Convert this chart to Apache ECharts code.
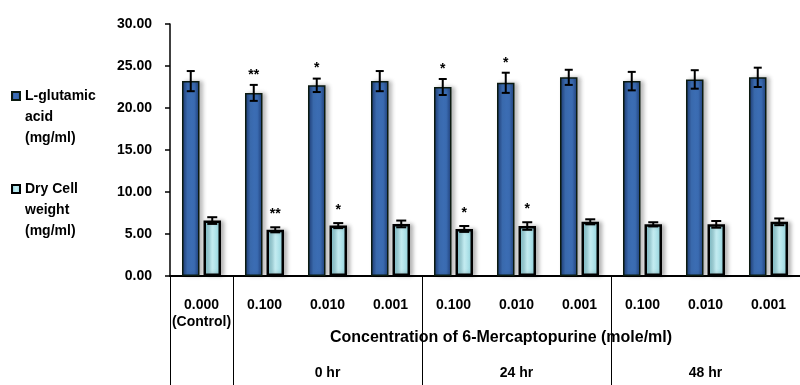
<!DOCTYPE html>
<html><head><meta charset="utf-8">
<script src="https://cdn.jsdelivr.net/npm/echarts@6/dist/echarts.min.js"></script>
<style>html,body{margin:0;padding:0;background:#fff}#c{width:800px;height:385px}</style>
</head><body><div id="c"></div>
<script>
const categories = ['0.000\n(Control)', '0.100', '0.010', '0.001', '0.100', '0.010', '0.001', '0.100', '0.010', '0.001'];
const groupLabels = ['', '', '0 hr', '', '', '24 hr', '', '', '48 hr', ''];
const glutamic = [23.2, 21.8, 22.7, 23.2, 22.5, 23.0, 23.65, 23.2, 23.4, 23.65];
const glutamicErr = [1.2, 0.95, 0.8, 1.2, 0.95, 1.2, 0.9, 1.1, 1.1, 1.15];
const glutamicSig = ['', '**', '*', '', '*', '*', '', '', '', ''];
const dryCell = [6.6, 5.5, 6.0, 6.2, 5.6, 5.95, 6.45, 6.15, 6.15, 6.45];
const dryCellErr = [0.4, 0.3, 0.3, 0.4, 0.35, 0.45, 0.3, 0.25, 0.4, 0.4];
const dryCellSig = ['', '**', '*', '', '*', '*', '', '', '', ''];
const yTicks = [0, 5, 10, 15, 20, 25, 30];
const seriesNames = ['L-glutamic acid (mg/ml)', 'Dry Cell weight (mg/ml)'];
const legendLines = {
  'L-glutamic acid (mg/ml)': ['L-glutamic', 'acid', '(mg/ml)'],
  'Dry Cell weight (mg/ml)': ['Dry Cell', 'weight', '(mg/ml)']
};
const xTitle = 'Concentration of 6-Mercaptopurine (mole/ml)';

const FONT = '"Liberation Sans", Arial, sans-serif';
const BAR_W = 17.5, GAP = 4;
const OFF = (BAR_W + GAP) / 2;

const darkFill = {type:'linear',x:0,y:0,x2:1,y2:0,colorStops:[
  {offset:0,color:'#1c3870'},{offset:0.3,color:'#3d6fb6'},{offset:0.7,color:'#3a6bb1'},{offset:1,color:'#1f3d76'}]};
const lightFill = {type:'linear',x:0,y:0,x2:1,y2:0,colorStops:[
  {offset:0,color:'#7ec6d2'},{offset:0.5,color:'#c6eef3'},{offset:1,color:'#8ccfd9'}]};

function errData(vals, errs){
  return vals.map((v,i)=>[i, v, errs[i]]);
}
function makeErr(vals, errs, sigs, side, capHalf, sigGap){
  return {
    type:'custom', z:5, silent:true,
    data: errData(vals, errs),
    encode:{x:0, y:1},
    renderItem(params, api){
      const i = api.value(0), v = api.value(1), e = api.value(2);
      const sig = sigs[i];
      const top = api.coord([i, v + e]);
      const bot = api.coord([i, v - e]);
      const x = top[0] + side * OFF;
      const ls = {stroke:'#000', lineWidth:2};
      const ch = [
        {type:'line', shape:{x1:x,y1:top[1],x2:x,y2:bot[1]}, style:ls},
        {type:'line', shape:{x1:x-capHalf,y1:top[1],x2:x+capHalf,y2:top[1]}, style:ls},
        {type:'line', shape:{x1:x-capHalf,y1:bot[1],x2:x+capHalf,y2:bot[1]}, style:ls}
      ];
      if (sig) ch.push({type:'text', style:{text:sig, x:x, y:top[1]-sigGap, align:'center', verticalAlign:'bottom',
        font:'bold 14px ' + FONT, fill:'#000'}});
      return {type:'group', children:ch};
    }
  };
}

const chart = echarts.init(document.getElementById('c'), null, {renderer:'canvas'});
const LH = 21;
const legendText = {fontFamily:FONT, fontWeight:'bold', fontSize:14, color:'#000', lineHeight:LH};
const legendFmt = (name) => '\n\n' + legendLines[name].join('\n');
function legendAt(name, cy){
  return {data:[name], orient:'vertical', left:11, top:cy - 2.5*LH, padding:0, icon:'rect',
    itemWidth:8, itemHeight:8, itemGap:5, textStyle:legendText, formatter:legendFmt};
}
chart.setOption({
  animation:false,
  backgroundColor:'#fff',
  grid:{left:170, top:24, bottom:109, width:635},
  legend:[ legendAt(seriesNames[0], 96), legendAt(seriesNames[1], 189) ],
  xAxis:[{
    type:'category', data:categories, position:'bottom',
    axisLine:{lineStyle:{color:'#000', width:2}},
    axisTick:{show:true, length:109, interval:(idx)=>[0,1,4,7].includes(idx), lineStyle:{color:'#000', width:1}},
    axisLabel:{interval:0, margin:21, fontFamily:FONT, fontWeight:'bold', fontSize:14, color:'#000', lineHeight:17},
    name:xTitle, nameLocation:'middle', nameGap:53, nameMoveOverlap:false,
    nameTextStyle:{fontFamily:FONT, fontWeight:'bold', fontSize:16, color:'#000', backgroundColor:'#fff', padding:[1,2,1,34]}
  },{
    type:'category', data:groupLabels, position:'bottom',
    axisLine:{show:false}, axisTick:{show:false},
    axisLabel:{interval:0, margin:90, fontFamily:FONT, fontWeight:'bold', fontSize:14, color:'#000'}
  }],
  yAxis:{
    type:'value', min:yTicks[0], max:yTicks[yTicks.length-1], interval:5,
    axisLine:{show:true, lineStyle:{color:'#000', width:1.5}},
    axisTick:{show:true, length:5, lineStyle:{color:'#000', width:1.5}},
    splitLine:{show:false},
    axisLabel:{margin:18, formatter:(v)=>v.toFixed(2), fontFamily:FONT, fontWeight:'bold', fontSize:14, color:'#000'}
  },
  series:[
    {name:seriesNames[0], type:'bar', data:glutamic, barWidth:BAR_W, barGap:(GAP/BAR_W*100)+'%',
      itemStyle:{color:darkFill, borderColor:'#0b1a10', borderWidth:1.5, shadowColor:'rgba(0,0,0,0.25)', shadowBlur:4, shadowOffsetX:3}},
    {name:seriesNames[1], type:'bar', data:dryCell, barWidth:BAR_W,
      itemStyle:{color:lightFill, borderColor:'#000', borderWidth:2.5, shadowColor:'rgba(0,0,0,0.25)', shadowBlur:4, shadowOffsetX:3}},
    makeErr(glutamic, glutamicErr, glutamicSig, -1, 4, 3),
    makeErr(dryCell, dryCellErr, dryCellSig, 1, 5, 6)
  ]
});
</script></body></html>
